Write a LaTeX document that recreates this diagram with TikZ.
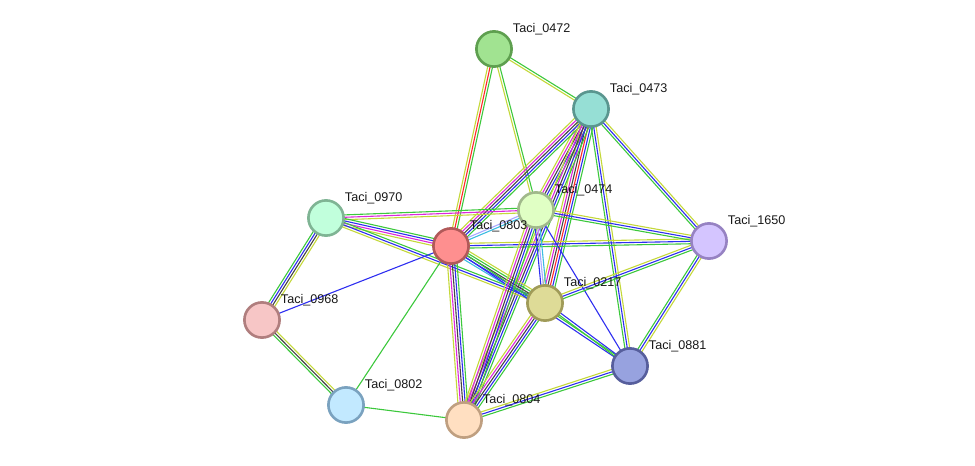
\documentclass[tikz,border=0pt]{standalone}
\usepackage{fontspec}
\setmainfont{Liberation Sans}
\usetikzlibrary{calc,backgrounds}
\definecolor{egreen}{HTML}{3CC83C}
\definecolor{ered}{HTML}{FF2A2A}
\definecolor{eblue}{HTML}{2E2EF0}
\definecolor{eblack}{HTML}{444444}
\definecolor{emag}{HTML}{DC28DC}
\definecolor{ecyan}{HTML}{3CBCE0}
\definecolor{eylw}{HTML}{C4D83A}
\definecolor{ehom}{HTML}{A8A8FF}
\definecolor{f0472}{HTML}{A1E391}\definecolor{d0472}{HTML}{5E9F4F}
\definecolor{f0473}{HTML}{96DFD5}\definecolor{d0473}{HTML}{5A968F}
\definecolor{f0474}{HTML}{E0FFC4}\definecolor{d0474}{HTML}{A1B98B}
\definecolor{f0970}{HTML}{C1FFDC}\definecolor{d0970}{HTML}{7FB494}
\definecolor{f0803}{HTML}{FE8F8F}\definecolor{d0803}{HTML}{B15959}
\definecolor{f1650}{HTML}{D4C5FF}\definecolor{d1650}{HTML}{9682C2}
\definecolor{f0968}{HTML}{F7C6C6}\definecolor{d0968}{HTML}{B07E7E}
\definecolor{f0217}{HTML}{DEDB97}\definecolor{d0217}{HTML}{A09B58}
\definecolor{f0881}{HTML}{97A2DF}\definecolor{d0881}{HTML}{565E9C}
\definecolor{f0802}{HTML}{C2E9FF}\definecolor{d0802}{HTML}{7AA2BF}
\definecolor{f0804}{HTML}{FFDFC1}\definecolor{d0804}{HTML}{BF9F80}
\tikzset{
  prot/.style={circle, draw=d#1, fill=f#1, line width=1.3pt, minimum size=17.6pt, inner sep=0pt,
    label={[lbl,name=l#1,xshift=1pt,yshift=-1.4pt]45:Taci\_#1}},
  lbl/.style={font=\fontsize{6.3}{7}\selectfont, inner sep=1.6pt, text=black!90},
  edge/.style={line width=0.55pt},
}
% bundle of parallel lines, one per evidence colour
\newcommand\lnk[3]{%
  \foreach \c [count=\k] in {#3} {\xdef\lnkn{\k}}%
  \foreach \c [count=\k] in {#3} {
    \pgfmathsetmacro\o{(\k-(\lnkn+1)/2)*1.2}
    \draw[edge,\c] ($(#1.center)!\o pt!90:(#2.center)$) -- ($(#2.center)!\o pt!-90:(#1.center)$);
  }}

\begin{document}
\begin{tikzpicture}[x=0.5pt,y=-0.5pt]
  \useasboundingbox (0,0) rectangle (975,466);
  \node[prot=0472] (t0472) at (494,49) {};
  \node[prot=0473] (t0473) at (591,109) {};
  \node[prot=0474] (t0474) at (536,210) {};
  \node[prot=0970] (t0970) at (326,218) {};
  \node[prot=0803] (t0803) at (451,246) {};
  \node[prot=1650] (t1650) at (709,241) {};
  \node[prot=0968] (t0968) at (262,320) {};
  \node[prot=0217] (t0217) at (545,303) {};
  \node[prot=0881] (t0881) at (630,366) {};
  \node[prot=0802] (t0802) at (346,405) {};
  \node[prot=0804] (t0804) at (464,420) {};
  \begin{scope}[on background layer]
    \lnk{t0472}{t0473}{eylw,egreen}
    \lnk{t0472}{t0474}{eylw,egreen}
    \lnk{t0472}{t0803}{eylw,ered,egreen}
    \lnk{t0473}{t0474}{eylw,emag,eblack,eblue,egreen}
    \lnk{t0473}{t0803}{eylw,emag,eblack,eblue,egreen}
    \lnk{t0473}{t0217}{eylw,emag,eblack,ered,eblue,egreen}
    \lnk{t0473}{t0804}{eylw,emag,eblack,eblue,egreen}
    \lnk{t0473}{t1650}{egreen,eblue,eylw}
    \lnk{t0473}{t0881}{egreen,eblue,eylw}
    \lnk{t0970}{t0474}{eylw,emag,egreen}
    \lnk{t0970}{t0803}{eylw,emag,eblue,egreen}
    \lnk{t0970}{t0217}{eylw,eblue,egreen}
    \lnk{t0970}{t0968}{egreen,eblue,eblack,eylw}
    \lnk{t0968}{t0803}{eblue}
    \lnk{t0968}{t0802}{egreen,eblack,eylw}
    \lnk{t0802}{t0803}{egreen}
    \lnk{t0802}{t0804}{egreen}
    \lnk{t0803}{t0474}{ecyan,ehom}
    \lnk{t0803}{t1650}{egreen,eblue,eylw}
    \lnk{t0803}{t0217}{ecyan,eblue,eblack,egreen,eylw}
    \lnk{t0803}{t0881}{eblue,egreen}
    \lnk{t0803}{t0804}{eylw,emag,eblack,eblue,egreen}
    \lnk{t0474}{t1650}{egreen,eblue,eylw}
    \lnk{t0474}{t0217}{eblue,ehom,ecyan}
    \lnk{t0474}{t0804}{eylw,emag,eblack,eblue,egreen}
    \lnk{t0474}{t0881}{eblue}
    \lnk{t0217}{t1650}{egreen,eblue,eylw}
    \lnk{t0217}{t0881}{egreen,eblue}
    \lnk{t0217}{t0804}{eylw,emag,eblack,eblue,egreen}
    \lnk{t1650}{t0881}{egreen,eblue,eylw}
    \lnk{t0804}{t0881}{egreen,eblue,eylw}
  \end{scope}
\end{tikzpicture}
\end{document}
